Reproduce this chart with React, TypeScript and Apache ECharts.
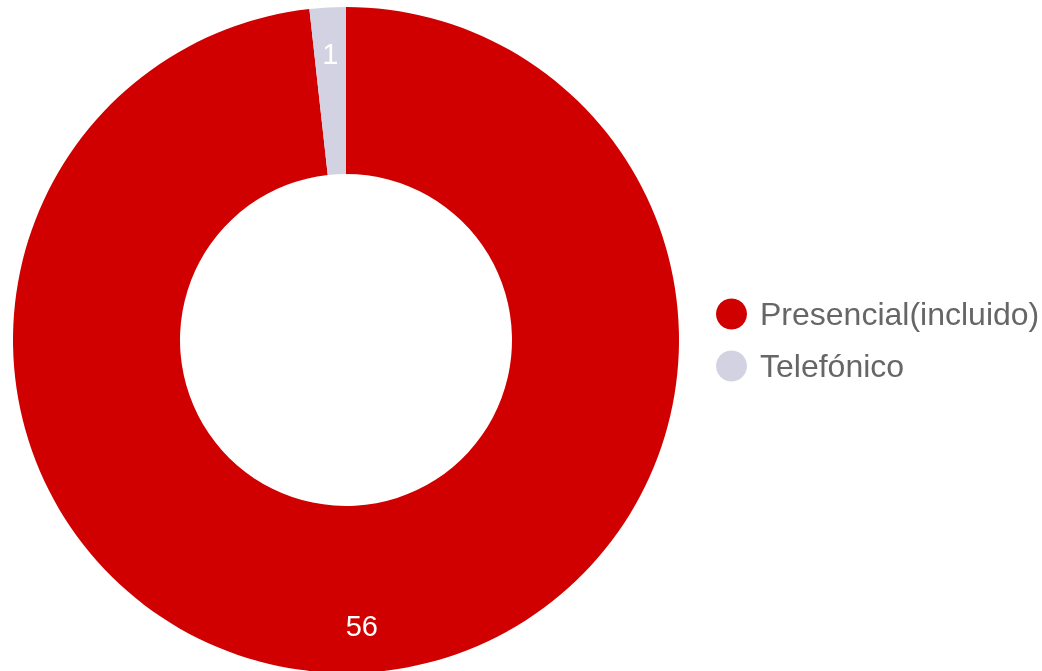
import React, { useEffect, useRef } from "react";
import * as echarts from "echarts";

const categories = ["Presencial(incluido)", "Telefónico"];
const values = [56, 1];
const colors = ["#d10000", "#d2d2e2"];

export default function App() {
  const ref = useRef<HTMLDivElement>(null);
  useEffect(() => {
    if (!ref.current) return;
    const chart = echarts.init(ref.current, null, { renderer: "svg" });
    const data = categories.map((name, i) => ({
      name,
      value: values[i],
      itemStyle: { color: colors[i] },
    }));
    chart.setOption({
      animation: false,
      legend: {
        orient: "vertical",
        left: 711,
        top: 293,
        icon: "circle",
        itemWidth: 31,
        itemHeight: 31,
        itemGap: 20,
        textStyle: {
          fontSize: 32,
          lineHeight: 31,
          color: "#666666",
          fontFamily: "Liberation Sans, Arial, sans-serif",
          padding: [0, 0, 0, 8],
        },
        data: categories,
      },
      series: [
        {
          type: "pie",
          center: [346, 340],
          radius: [166, 333],
          startAngle: 90,
          clockwise: true,
          label: { show: false },
          labelLine: { show: false },
          emphasis: { disabled: true },
          data,
        },
        {
          type: "pie",
          center: [346, 340],
          radius: [233, 333],
          startAngle: 90,
          clockwise: true,
          silent: true,
          legendHoverLink: false,
          itemStyle: { color: "transparent" },
          label: {
            show: true,
            position: "inside",
            formatter: "{c}",
            color: "#ffffff",
            fontSize: 29,
            fontFamily: "Liberation Sans, Arial, sans-serif",
          },
          labelLine: { show: false },
          emphasis: { disabled: true },
          data: categories.map((name, i) => ({ name: name + " ", value: values[i], itemStyle: { color: "transparent" } })),
        },
      ],
    });
    return () => chart.dispose();
  }, []);
  return (
    <div
      ref={ref}
      style={{ position: "fixed", left: 0, top: 0, width: 1042, height: 671 }}
    />
  );
}
